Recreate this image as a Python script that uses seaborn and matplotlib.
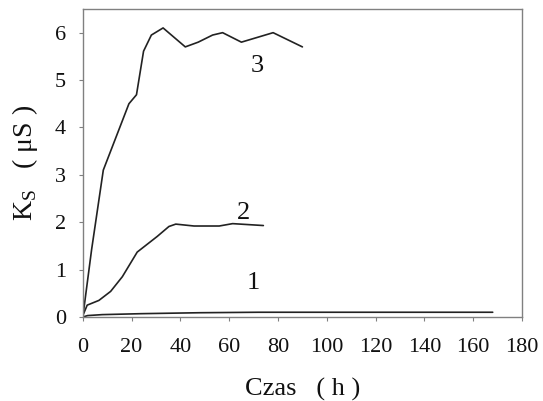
import matplotlib
matplotlib.use("Agg")
import matplotlib.pyplot as plt
import seaborn as sns
import pandas as pd

# Curve 1
t1 = [0, 2, 8, 24, 48, 72, 96, 120, 144, 168]
k1 = [0.0, 0.03, 0.05, 0.07, 0.09, 0.10, 0.10, 0.10, 0.10, 0.10]
# Curve 2
t2 = [0, 1.8, 6.6, 11.4, 16.2, 22.3, 30.5, 35.3, 38.1, 45.6, 55.9, 61.4, 74]
k2 = [0.03, 0.25, 0.35, 0.54, 0.85, 1.37, 1.70, 1.91, 1.96, 1.92, 1.92, 1.97, 1.93]
# Curve 3
t3 = [0, 3.6, 8.4, 18.9, 22, 24.9, 28.1, 32.9, 42, 47.3, 53.2, 57.3, 65, 78, 90]
k3 = [0.0, 1.42, 3.1, 4.5, 4.69, 5.61, 5.95, 6.1, 5.70, 5.8, 5.95, 6.0, 5.8, 6.0, 5.7]

labels = ["1", "2", "3"]
label_pos_t = [70, 66, 71.5]
label_pos_k = [0.72, 2.2, 5.3]

sns.set_theme(style="white")
plt.rcParams['font.family'] = ['Liberation Serif', 'DejaVu Serif']

fig = plt.figure(figsize=(5.43, 4.01), dpi=100)
ax = fig.add_axes([0.1525, 0.2095, 0.9613 - 0.1525, 0.9776 - 0.2095])

frames = []
for name, t, k in [("1", t1, k1), ("2", t2, k2), ("3", t3, k3)]:
    frames.append(pd.DataFrame({"t": t, "k": k, "s": name}))
df = pd.concat(frames)
sns.lineplot(data=df, x="t", y="k", hue="s", palette=["#222222"] * 3,
             legend=False, ax=ax, linewidth=1.2, sort=False, estimator=None)

for lab, xt, yk in zip(labels, label_pos_t, label_pos_k):
    ax.text(xt, yk, lab, fontsize=19, ha="center", va="center", color="#111111")

ax.set_xlim(0, 180)
ax.set_ylim(0, 6.5)
ax.set_xticks(range(0, 181, 20))
ax.set_yticks(range(0, 7))
for s in ax.spines.values():
    s.set_color("#808080")
    s.set_linewidth(1.0)
ax.tick_params(axis="both", direction="out", length=3, width=0.8, color="#808080",
               labelsize=16, labelcolor="#111111", bottom=True, left=True)
ax.tick_params(axis="x", pad=12)
ax.tick_params(axis="y", pad=9)
ax.set_xlabel("Czas   ( h )", fontsize=19, color="#111111", labelpad=15)
ax.set_ylabel(r"K$_\mathregular{S}$   ( μS )", fontsize=20, color="#111111", labelpad=11)

fig.savefig("out.png", dpi=100, facecolor="white")
